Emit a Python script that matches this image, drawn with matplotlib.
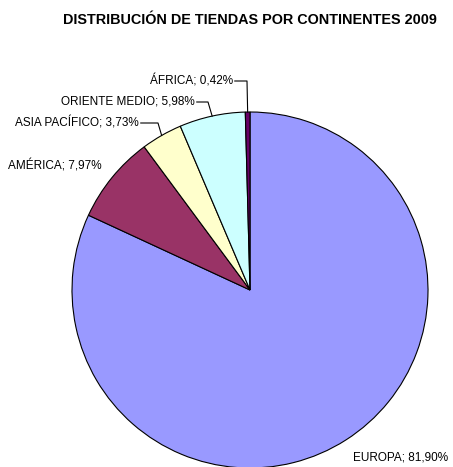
import numpy as np
import matplotlib.pyplot as plt

plt.rcParams['font.family'] = ['Liberation Sans', 'DejaVu Sans']

# Data
continents = ['EUROPA', 'AMÉRICA', 'ASIA PACÍFICO', 'ORIENTE MEDIO', 'ÁFRICA']
shares = [81.90, 7.97, 3.73, 5.98, 0.42]
colors = ['#9999FF', '#993366', '#FFFFCC', '#CCFFFF', '#660066']

fig = plt.figure(figsize=(4.53, 4.67), dpi=100)
ax = fig.add_axes([0, 0, 1, 1])

wedges, _ = ax.pie(shares, colors=colors, startangle=90, counterclock=False,
                   wedgeprops=dict(edgecolor='black', linewidth=0.8))

# pie: radius 1 == 178 px, centre at (250, 290) px from top-left
px = 178.0
cx, cy = 250.0, 290.0
ax.set_xlim(-cx / px, (453 - cx) / px)
ax.set_ylim(-(467 - cy) / px, cy / px)
ax.set_aspect('equal', adjustable='datalim')
ax.axis('off')

def to_data(x, y):
    return (x - cx) / px, (cy - y) / px

def lbl(i):
    return f'{continents[i]}; {shares[i]:.2f}%'.replace('.', ',')

# labels with leader lines: (index, text right end px, text y px, elbow x px)
leaders = [(4, 233, 81, 247), (3, 195, 102, 208), (2, 139, 123, 158)]
for i, tx, ty, ex in leaders:
    w = wedges[i]
    mid = np.deg2rad((w.theta1 + w.theta2) / 2)
    x0, y0 = to_data(tx, ty)
    x1, _ = to_data(ex, ty)
    ax.text(x0, y0, lbl(i), ha='right', va='center', fontsize=8.5)
    ax.plot([x0 + 0.01, x1, np.cos(mid)], [y0, y0, np.sin(mid)],
            color='black', lw=0.8)

x, y = to_data(8, 166)
ax.text(x, y, lbl(1), ha='left', va='center', fontsize=8.5)
x, y = to_data(353, 458)
ax.text(x, y, lbl(0), ha='left', va='center', fontsize=8.5)

fig.text(250 / 453, 1 - 20 / 467, 'DISTRIBUCIÓN DE TIENDAS POR CONTINENTES 2009',
         ha='center', va='center', fontsize=10.4, fontweight='bold')

fig.savefig('out.png', dpi=100)
